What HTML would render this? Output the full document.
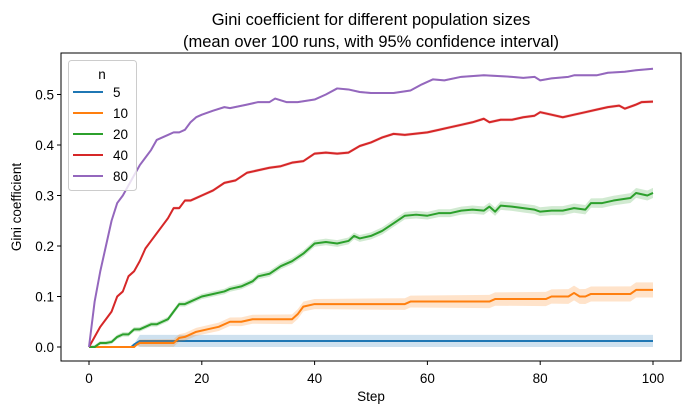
<!DOCTYPE html>
<html><head><meta charset="utf-8"><style>
body{margin:0;background:#fff}
svg{display:block;font-family:"Liberation Sans","DejaVu Sans",sans-serif}
</style></head><body>
<svg id="s" width="691" height="414" xmlns="http://www.w3.org/2000/svg">
<rect width="691" height="414" fill="#fff"/>
<text x="371" y="25" font-size="16.5" text-anchor="middle">Gini coefficient for different population sizes</text>
<text x="371" y="47" font-size="16.5" text-anchor="middle">(mean over 100 runs, with 95% confidence interval)</text>
<g id="plot"></g>
<rect x="61" y="53" width="620" height="308" fill="none" stroke="#000" stroke-width="1"/>
<g font-size="13.5" text-anchor="end" id="yt"></g>
<g font-size="13.5" text-anchor="middle" id="xt"></g>
<text x="371" y="401" font-size="13.5" text-anchor="middle">Step</text>
<text transform="translate(21,207) rotate(-90)" font-size="13.5" text-anchor="middle">Gini coefficient</text>
<g>
<rect x="68.5" y="60.5" width="68" height="130" rx="3" fill="#fff" fill-opacity="0.8" stroke="#ccc"/>
<text x="102" y="79" font-size="13.5" text-anchor="middle">n</text>
<line x1="73" x2="103" y1="92" y2="92" stroke="#1f77b4" stroke-width="2"/><text x="113" y="97" font-size="13.5">5</text>
<line x1="73" x2="103" y1="113" y2="113" stroke="#ff7f0e" stroke-width="2"/><text x="113" y="118" font-size="13.5">10</text>
<line x1="73" x2="103" y1="134" y2="134" stroke="#2ca02c" stroke-width="2"/><text x="113" y="139" font-size="13.5">20</text>
<line x1="73" x2="103" y1="155" y2="155" stroke="#d62728" stroke-width="2"/><text x="113" y="160" font-size="13.5">40</text>
<line x1="73" x2="103" y1="176" y2="176" stroke="#9467bd" stroke-width="2"/><text x="113" y="181" font-size="13.5">80</text>
</g>
</svg>
<script>
var X=function(s){return 89+s*5.64},Y=function(v){return 347-v*505};
var NS="http://www.w3.org/2000/svg";
function el(p,t,a){var e=document.createElementNS(NS,t);for(var k in a)e.setAttribute(k,a[k]);p.appendChild(e);return e}
var yt=document.getElementById('yt'),xt=document.getElementById('xt'),s=document.getElementById('s');
for(var i=0;i<=5;i++){var y=Y(i/10);el(s,'line',{x1:57,x2:61,y1:y,y2:y,stroke:'#000'});el(yt,'text',{x:54,y:y+5}).textContent=(i/10).toFixed(1)}
for(var i=0;i<=100;i+=20){var x=X(i);el(s,'line',{x1:x,x2:x,y1:361,y2:365,stroke:'#000'});el(xt,'text',{x:x,y:383}).textContent=i}
function parse(str){return str.trim().split(/\s+/).map(function(p){var a=p.split(':');return[+a[0],+a[1]]})}
var series=[
['#1f77b4','0:0 7.5:0 8:0.005 9:0.012 100:0.012',function(s){return s>=8.5?0.012:0.001}],
['#ff7f0e','0:0 8:0 8.5:0.005 9:0.008 15:0.008 16:0.018 17:0.02 19:0.03 21:0.035 23:0.04 25:0.05 27:0.05 29:0.055 36:0.055 37:0.065 38:0.08 40:0.085 56:0.085 57:0.09 71:0.09 72:0.095 81:0.095 82:0.1 85:0.1 86:0.107 87:0.1 88:0.1 89:0.105 96:0.105 97:0.113 100:0.113',function(s){return s<9?0.001:Math.min(0.015,0.006+s*0.0001)}],
['#2ca02c','0:0 1:0 2:0.008 3:0.008 4:0.01 5:0.02 6:0.025 7:0.025 8:0.035 9:0.035 10:0.04 11:0.045 12:0.045 13:0.05 14:0.055 15:0.07 16:0.085 17:0.085 18:0.09 20:0.1 22:0.105 24:0.11 25:0.115 27:0.12 29:0.13 30:0.14 32:0.145 34:0.16 36:0.17 38:0.185 40:0.205 42:0.208 44:0.205 46:0.21 47:0.22 48:0.215 50:0.22 52:0.23 54:0.245 56:0.26 58:0.262 60:0.26 62:0.265 64:0.265 66:0.27 68:0.272 70:0.27 71:0.278 72:0.268 73:0.28 75:0.278 77:0.275 79:0.272 80:0.268 82:0.27 84:0.27 86:0.275 88:0.272 89:0.285 91:0.285 93:0.29 96:0.295 97:0.305 99:0.3 100:0.305',function(s){return 0.004+s*0.00006}],
['#d62728','0:0 1:0.02 2:0.04 3:0.055 4:0.07 5:0.1 6:0.11 7:0.14 8:0.15 9:0.17 10:0.195 11:0.21 12:0.225 13:0.24 14:0.255 15:0.275 16:0.275 17:0.29 18:0.29 19:0.295 20:0.3 22:0.31 24:0.325 26:0.33 28:0.345 30:0.35 32:0.355 34:0.358 36:0.365 38:0.368 40:0.383 42:0.385 44:0.383 46:0.385 48:0.398 50:0.405 52:0.415 54:0.422 56:0.42 60:0.425 62:0.43 64:0.435 66:0.44 68:0.445 70:0.452 71:0.445 73:0.45 75:0.45 77:0.455 79:0.458 80:0.465 82:0.46 84:0.455 86:0.46 88:0.465 90:0.47 92:0.475 94:0.478 95:0.472 97:0.48 98:0.485 100:0.486',function(){return 0.003}],
['#9467bd','0:0 1:0.09 2:0.15 3:0.2 4:0.25 5:0.285 6:0.3 7:0.32 8:0.34 9:0.36 10:0.375 11:0.39 12:0.41 13:0.415 14:0.42 15:0.425 16:0.425 17:0.43 18:0.445 19:0.455 20:0.46 22:0.468 24:0.475 25:0.473 28:0.48 30:0.485 32:0.485 33:0.492 35:0.485 37:0.485 40:0.49 42:0.5 44:0.512 46:0.51 48:0.505 50:0.503 54:0.503 57:0.508 59:0.52 61:0.53 63:0.528 66:0.535 70:0.538 72:0.537 75:0.535 77:0.533 79:0.535 80:0.528 82:0.532 85:0.535 86:0.538 90:0.538 92:0.543 95:0.545 97:0.548 100:0.551',function(){return 0.002}]];
var g=document.getElementById('plot');
series.forEach(function(sr){var pts=parse(sr[1]);
var up=pts.map(function(p){return X(p[0])+','+Y(p[1]+sr[2](p[0]))});
var dn=pts.slice().reverse().map(function(p){return X(p[0])+','+Y(Math.max(0,p[1]-sr[2](p[0])))});
el(g,'polygon',{points:up.concat(dn).join(' '),fill:sr[0],'fill-opacity':0.22,stroke:'none'});
el(g,'polyline',{points:pts.map(function(p){return X(p[0])+','+Y(p[1])}).join(' '),fill:'none',stroke:sr[0],'stroke-width':2,'stroke-linejoin':'round'});
});
</script>
</body></html>
